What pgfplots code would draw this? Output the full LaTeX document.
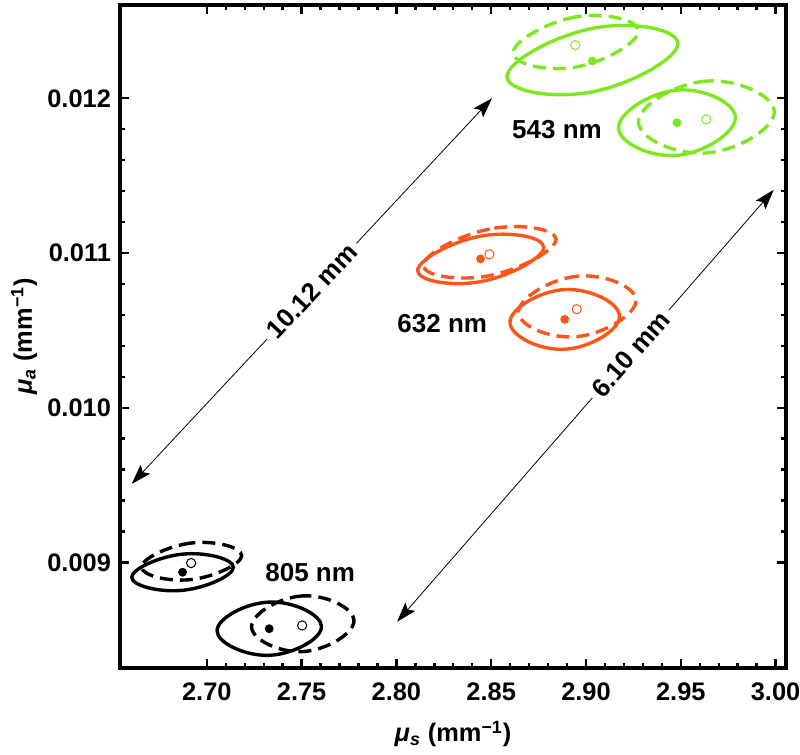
\documentclass[border=0pt]{standalone}
\usepackage{fontspec}
\setmainfont{Liberation Sans}
\usepackage{pgfplots}
\pgfplotsset{compat=1.18}
\usetikzlibrary{arrows.meta}
\definecolor{lgreen}{RGB}{125,232,30}
\definecolor{lorange}{RGB}{252,86,25}
\begin{document}
\begin{tikzpicture}
\begin{axis}[
  name=ax,
  scale only axis,
  width=333pt, height=331.5pt,
  xmin=2.6542, xmax=3.0055,
  ymin=0.008318, ymax=0.012603,
  xtick={2.70,2.75,2.80,2.85,2.90,2.95,3.00},
  ytick={0.009,0.010,0.011,0.012},
  minor x tick num=4, minor y tick num=4,
  scaled x ticks=false, scaled y ticks=false,
  tick align=inside,
  tick pos=both,
  axis line style={line width=2.4pt},
  major tick length=4.5pt, minor tick length=2.5pt,
  every tick/.style={black, line width=1.2pt},
  /pgf/number format/assume math mode=true,
  tick label style={font=\fontsize{12.7}{15}\selectfont\bfseries},
  xticklabel style={/pgf/number format/.cd, fixed, fixed zerofill, precision=2, /tikz/.cd, yshift=-4pt},
  yticklabel style={/pgf/number format/.cd, fixed, fixed zerofill, precision=3, /tikz/.cd, xshift=-1pt},
  every axis x label/.style={at={(rel axis cs:0.5,0)}, yshift=-37pt, anchor=base},
  every axis y label/.style={at={(rel axis cs:0,0.5)}, xshift=-44pt, rotate=90, anchor=base},
  label style={font=\fontsize{12.7}{15}\selectfont\bfseries},
  xlabel={\textit{μ\textsubscript{s}} (mm\textsuperscript{−1})},
  ylabel={\textit{μ\textsubscript{a}} (mm\textsuperscript{−1})},
  ell/.style={line width=1.7pt, smooth cycle, tension=0.828},
  dashell/.style={ell, dash pattern=on 6.5pt off 3.5pt},
]
% 543 nm ellipses
\addplot[lgreen, ell] coordinates {(2.9485,0.012354) (2.9034,0.012452) (2.8583,0.012140) (2.9034,0.012042)};
\addplot[lgreen, dashell] coordinates {(2.9276,0.012434) (2.8946,0.012526) (2.8616,0.012294) (2.8946,0.012202)};
\addplot[lgreen, ell] coordinates {(2.9788,0.011874) (2.9480,0.012053) (2.9172,0.011810) (2.9480,0.011631)};
\addplot[lgreen, dashell] coordinates {(2.9993,0.011911) (2.9635,0.012111) (2.9277,0.011847) (2.9635,0.011647)};
% 632 nm ellipses
\addplot[lorange, ell] coordinates {(2.8777,0.011037) (2.8444,0.011109) (2.8112,0.010887) (2.8444,0.010815)};
\addplot[lorange, dashell] coordinates {(2.8842,0.011088) (2.8492,0.011155) (2.8142,0.010920) (2.8492,0.010854)};
\addplot[lorange, ell] coordinates {(2.9177,0.010590) (2.8888,0.010764) (2.8599,0.010552) (2.8888,0.010378)};
\addplot[lorange, dashell] coordinates {(2.9264,0.010693) (2.8954,0.010850) (2.8644,0.010618) (2.8954,0.010460)};
% 805 nm ellipses
\addplot[black, ell] coordinates {(2.7140,0.008969) (2.6872,0.009054) (2.6604,0.008904) (2.6872,0.008820)};
\addplot[black, dashell] coordinates {(2.7184,0.009045) (2.6920,0.009126) (2.6656,0.008970) (2.6920,0.008890)};
\addplot[black, ell] coordinates {(2.7605,0.008585) (2.7329,0.008744) (2.7054,0.008559) (2.7329,0.008400)};
\addplot[black, dashell] coordinates {(2.7776,0.008623) (2.7506,0.008784) (2.7236,0.008585) (2.7506,0.008424)};
% centres
\addplot[only marks, mark=*, mark size=2pt, lgreen] coordinates {(2.9033,0.012241) (2.9480,0.011842)};
\addplot[only marks, mark=o, mark size=2.3pt, lgreen, mark options={line width=0.5pt}] coordinates {(2.8944,0.012344) (2.9635,0.011864)};
\addplot[only marks, mark=*, mark size=2pt, lorange] coordinates {(2.8444,0.010962) (2.8888,0.010571)};
\addplot[only marks, mark=o, mark size=2.3pt, lorange, mark options={line width=0.5pt}] coordinates {(2.8491,0.010992) (2.8951,0.010637)};
\addplot[only marks, mark=*, mark size=2pt, black] coordinates {(2.6872,0.008937) (2.7329,0.008572)};
\addplot[only marks, mark=o, mark size=2.3pt, black, mark options={line width=0.5pt}] coordinates {(2.6917,0.008996) (2.7503,0.008593)};
% annotations
\draw[line width=0.4pt, {Stealth[length=10pt,width=6.5pt,inset=2pt]}-{Stealth[length=10pt,width=6.5pt,inset=2pt]}]
  (axis cs:2.6604,0.009508) -- node[pos=0.5, sloped, fill=white, inner sep=3pt, font=\fontsize{13}{15}\selectfont\bfseries]{10.12 mm} (axis cs:2.8504,0.012000);
\draw[line width=0.4pt, {Stealth[length=10pt,width=6.5pt,inset=2pt]}-{Stealth[length=10pt,width=6.5pt,inset=2pt]}]
  (axis cs:2.8004,0.008617) -- node[pos=0.62, sloped, fill=white, inner sep=3pt, font=\fontsize{13}{15}\selectfont\bfseries]{6.10 mm} (axis cs:2.9990,0.011408);
\node[font=\fontsize{13}{15}\selectfont\bfseries] at (axis cs:2.8847,0.011795) {543 nm};
\node[font=\fontsize{13}{15}\selectfont\bfseries] at (axis cs:2.8242,0.010547) {632 nm};
\node[font=\fontsize{13}{15}\selectfont\bfseries] at (axis cs:2.7545,0.008937) {805 nm};
\end{axis}
\pgfresetboundingbox
\path ([xshift=-60pt,yshift=-43.5pt]ax.south west) rectangle ([xshift=7pt,yshift=2.5pt]ax.north east);
\end{tikzpicture}
\end{document}
